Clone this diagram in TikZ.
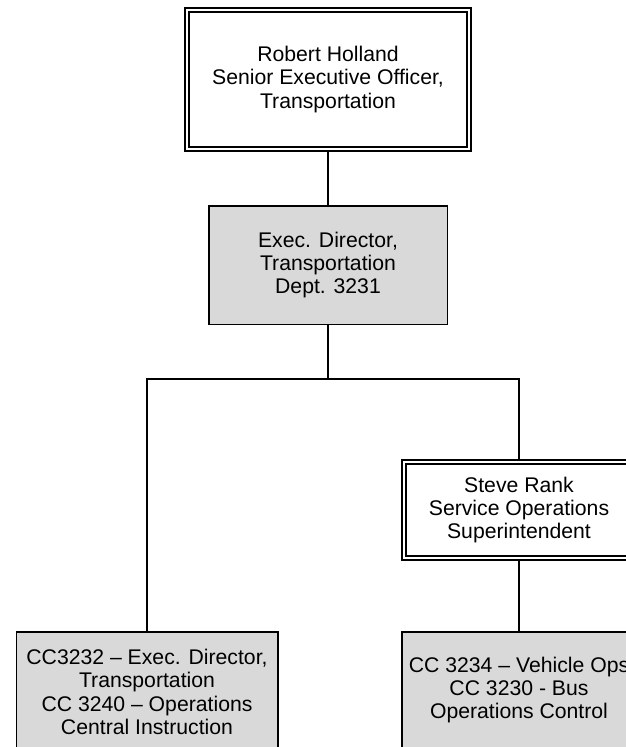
\documentclass[tikz,border=0pt]{standalone}
\usepackage{fontspec}
\setmainfont{Liberation Sans}
\definecolor{boxgray}{RGB}{217,217,217}
\tikzset{
  txt/.style={align=center, inner sep=0pt, font=\fontsize{21.2}{23.3}\selectfont},
  dblbox/.style={txt, draw=black, fill=white, double=white, line width=1.6pt, double distance=2.3pt},
  graybox/.style={txt, draw=black, fill=boxgray, line width=1.5pt},
  conn/.style={draw=black, line width=1.5pt}
}
\begin{document}
\begin{tikzpicture}[x=1pt,y=-1pt]
\useasboundingbox (0,0) rectangle (626,747);
\clip (0,0) rectangle (626,747);
\fill[white] (0,0) rectangle (626,747);
\node[dblbox, minimum width=282pt, minimum height=139pt] (top) at (328,79.5)
  {Robert Holland\\Senior Executive Officer,\\Transportation};
\node[graybox, minimum width=238.5pt, minimum height=118.5pt] (exec) at (328,265)
  {Exec. Director,\\Transportation\\Dept. 3231};
\node[dblbox, minimum width=230pt, minimum height=96pt] (steve) at (519,510)
  {Steve Rank\\Service Operations\\Superintendent};
\node[graybox, minimum width=261.5pt, minimum height=120.5pt] (bl) at (147,692)
  {CC3232 -- Exec. Director,\\Transportation\\CC 3240 -- Operations\\Central Instruction};
\node[graybox, minimum width=234.5pt, minimum height=116.5pt] (br) at (519,690)
  {CC 3234 -- Vehicle Ops\\CC 3230 - Bus\\Operations Control};
\draw[conn] (top.south) -- (exec.north);
\draw[conn] (exec.south) -- ++(0,54) coordinate (j);
\draw[conn] (bl.north) |- (j) -| (steve.north);
\draw[conn] (steve.south) -- (br.north);
\end{tikzpicture}
\end{document}
